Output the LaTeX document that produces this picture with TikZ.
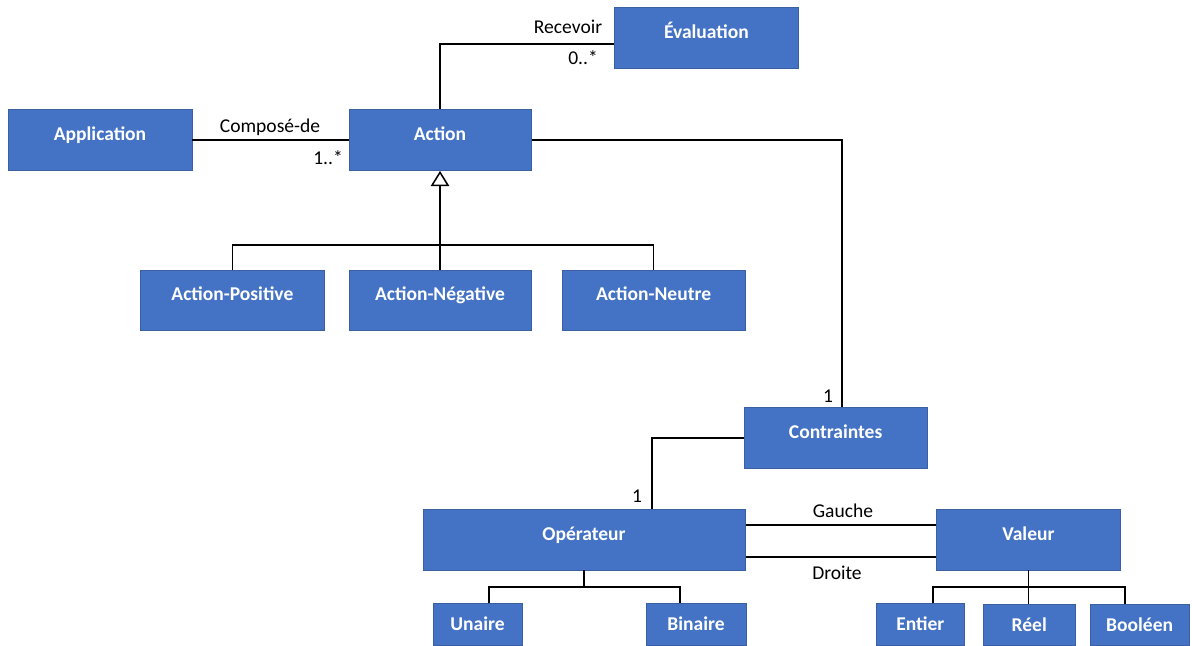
\documentclass[tikz,border=0pt]{standalone}
\usepackage{fontspec}
\setmainfont{Carlito}
\usetikzlibrary{shapes,arrows.meta}
\definecolor{boxfill}{HTML}{4472C4}
\definecolor{boxedge}{HTML}{3B5FA3}

\begin{document}
\begin{tikzpicture}[font=\fontsize{13.9}{16}\selectfont,
  cls/.style={draw=boxedge, line width=0.7pt, fill=boxfill, text=white,
    font=\fontsize{13.9}{16}\selectfont\bfseries, minimum height=1.52cm,
    text height=0.31cm, text depth=0.28cm, inner sep=0pt},
  leaf/.style={cls, minimum height=1.03cm, text depth=0cm},
  assoc/.style={line width=1.1pt},
  >={Triangle[open, length=0.38cm, width=0.46cm]}]

\useasboundingbox (0,0) rectangle (29.8,-16.15);

% classes
\node[cls, minimum width=4.6cm] (App) at (2.5,-3.5) {Application};
\node[cls, minimum width=4.55cm] (Act) at (11,-3.5) {Action};
\node[cls, minimum width=4.58cm] (Eval) at (17.66,-0.94) {Évaluation};

\node[cls, minimum width=4.58cm] (Pos) at (5.81,-7.51) {Action-Positive};
\node[cls, minimum width=4.55cm] (Neg) at (11,-7.51) {Action-Négative};
\node[cls, minimum width=4.58cm] (Neu) at (16.34,-7.51) {Action-Neutre};

\node[cls, minimum width=4.58cm] (Cont) at (20.89,-10.95) {Contraintes};
\node[cls, minimum width=8.05cm] (Op) at (14.6,-13.49) {Opérateur};
\node[cls, minimum width=4.58cm] (Val) at (25.71,-13.49) {Valeur};

\node[leaf, minimum width=2.23cm] (Un) at (11.94,-15.61) {Unaire};
\node[leaf, minimum width=2.5cm] (Bin) at (17.4,-15.61) {Binaire};
\node[leaf, minimum width=2.18cm] (Ent) at (23.01,-15.61) {Entier};
\node[leaf, minimum width=2.3cm] (Reel) at (25.73,-15.62) {Réel};
\node[leaf, minimum width=2.48cm] (Bool) at (28.49,-15.62) {Booléen};

% associations
\draw[assoc] (App) -- (Act);
\draw[assoc] (Act.north) |- ([yshift=-0.16cm]Eval.west);
\draw[assoc] (Act.east) -| ([xshift=0.16cm]Cont.north);
\draw[assoc] (Cont.west) -| ([xshift=1.7cm]Op.north);
\draw[assoc] ([yshift=0.36cm]Op.east) -- ([yshift=0.36cm]Val.west);
\draw[assoc] ([yshift=-0.44cm]Op.east) -- ([yshift=-0.44cm]Val.west);

% generalisation
\coordinate (gen) at (11,-6.125);
\draw[assoc, ->] (Neg.north) -- (Act.south);
\draw[assoc] (Pos.north) |- (gen) -| (Neu.north);

% operateur / valeur subtypes
\coordinate (opj) at (14.6,-14.675);
\coordinate (valj) at (25.71,-14.675);
\draw[assoc] (Op.south) -- (opj);
\draw[assoc] ([xshift=0.29cm]Un.north) |- (opj) -| ([xshift=-0.4cm]Bin.north);
\draw[assoc] (Val.south) -- (Val.south |- Reel.north);
\draw[assoc] ([xshift=0.31cm]Ent.north) |- (valj) -| ([xshift=-0.36cm]Bool.north);

% labels
\node (lRecv) at (14.2,-0.675) {Recevoir};
\node (mEval) at (14.575,-1.45) {0..*};
\node (lComp) at (6.75,-3.175) {Composé-de};
\node (mAct) at (8.2,-3.95) {1..*};
\node (mCont) at (20.7,-9.9) {1};
\node (mOp) at (15.925,-12.4) {1};
\node (lGau) at (21.075,-12.775) {Gauche};
\node (lDro) at (20.925,-14.325) {Droite};

\end{tikzpicture}
\end{document}
